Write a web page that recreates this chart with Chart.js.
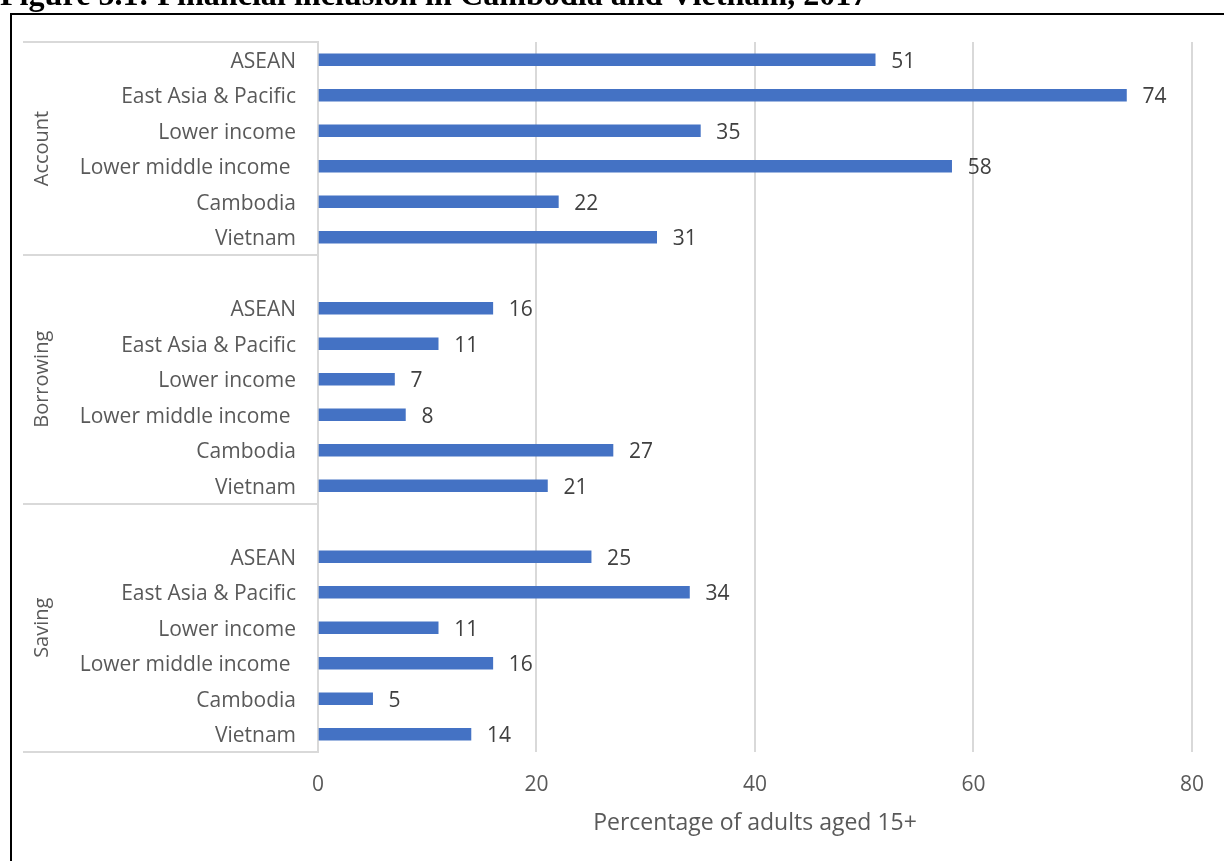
<!DOCTYPE html>
<html>
<head>
<meta charset="utf-8">
<script src="https://cdn.jsdelivr.net/npm/chart.js@4/dist/chart.umd.min.js"></script>
<style>
html,body{margin:0;padding:0;background:#fff;}
canvas{display:block;}
</style>
</head>
<body>
<canvas id="c" width="1224" height="861"></canvas>
<script>
const titleText = "Figure 5.1: Financial inclusion in Cambodia and Vietnam, 2017";
const groups = ["Account", "Borrowing", "Saving"];
const categories = ["ASEAN", "East Asia & Pacific", "Lower income", "Lower middle income ", "Cambodia", "Vietnam"];
const account = [51, 74, 35, 58, 22, 31];
const borrowing = [16, 11, 7, 8, 27, 21];
const saving = [25, 34, 11, 16, 5, 14];
const xTicks = [0, 20, 40, 60, 80];
const axisTitle = "Percentage of adults aged 15+";

const groupValues = [account, borrowing, saving];
const labels = [];
const values = [];
const groupStart = [];
groupValues.forEach((vals, g) => {
  groupStart.push(labels.length);
  if (g > 0) { labels.push(""); values.push(null); }
  categories.forEach((c, i) => { labels.push(c); values.push(vals[i]); });
});

const FONT = "'Open Sans', sans-serif";
const GRAY = "#595959";
const LINE = "#d9d9d9";

const decor = {
  id: "decor",
  afterDraw(chart) {
    const ctx = chart.ctx;
    const ca = chart.chartArea;
    const ys = chart.scales.y;
    const slot = (ys.getPixelForValue(1) - ys.getPixelForValue(0));
    ctx.save();
    // frame
    ctx.strokeStyle = "#000";
    ctx.lineWidth = 2;
    ctx.beginPath();
    ctx.moveTo(11, 861);
    ctx.lineTo(11, 14);
    ctx.lineTo(1224, 14);
    ctx.stroke();
    // title (cropped at top)
    ctx.fillStyle = "#000";
    let fs = 26;
    ctx.font = "bold " + fs + "px 'Liberation Serif', serif";
    const w = ctx.measureText(titleText).width;
    fs = fs * 868 / w;
    ctx.font = "bold " + fs.toFixed(2) + "px 'Liberation Serif', serif";
    ctx.textBaseline = "alphabetic";
    ctx.textAlign = "left";
    ctx.fillText(titleText, 0, 5);
    // group separators
    ctx.strokeStyle = LINE;
    ctx.lineWidth = 2;
    const bounds = groupStart.map(i => ys.getPixelForValue(i) - slot / 2);
    bounds.push(ca.bottom);
    bounds.forEach(yb => {
      ctx.beginPath();
      ctx.moveTo(23, Math.round(yb));
      ctx.lineTo(ca.left, Math.round(yb));
      ctx.stroke();
    });
    // group labels
    ctx.fillStyle = GRAY;
    ctx.font = "20px " + FONT;
    ctx.textAlign = "center";
    ctx.textBaseline = "middle";
    groups.forEach((g, i) => {
      const yc = (bounds[i] + bounds[i + 1]) / 2;
      ctx.save();
      ctx.translate(42, yc);
      ctx.rotate(-Math.PI / 2);
      ctx.fillText(g, 0, 0);
      ctx.restore();
    });
    // value labels
    ctx.fillStyle = "#404040";
    ctx.font = "21px " + FONT;
    ctx.textAlign = "left";
    ctx.textBaseline = "middle";
    const meta = chart.getDatasetMeta(0);
    meta.data.forEach((bar, i) => {
      const v = values[i];
      if (v === null) return;
      ctx.fillText(String(v), bar.x + 16, bar.y + 2);
    });
    // axis title
    ctx.fillStyle = GRAY;
    ctx.font = "23px " + FONT;
    ctx.textAlign = "center";
    ctx.textBaseline = "alphabetic";
    ctx.fillText(axisTitle, (ca.left + ca.right) / 2, 830);
    ctx.restore();
  }
};

new Chart(document.getElementById("c"), {
  type: "bar",
  data: {
    labels: labels,
    datasets: [{
      data: values,
      backgroundColor: "#4472C4",
      barThickness: 12
    }]
  },
  options: {
    indexAxis: "y",
    responsive: false,
    animation: false,
    layout: { padding: { left: 0, top: 42, right: 31, bottom: 0 } },
    plugins: { legend: { display: false }, tooltip: { enabled: false }, title: { display: false } },
    scales: {
      x: {
        min: 0, max: 80,
        afterBuildTicks(scale) { scale.ticks = xTicks.map(v => ({ value: v })); },
        afterFit(scale) { scale.height = 109; },
        grid: { color: LINE, lineWidth: 2, drawTicks: false },
        border: { display: false },
        ticks: { color: GRAY, font: { family: FONT, size: 21 }, padding: 20, maxRotation: 0 }
      },
      y: {
        afterFit(scale) { scale.width = 318; },
        grid: { display: false, drawTicks: false },
        border: { display: true, color: LINE, width: 2 },
        ticks: { color: GRAY, font: { family: FONT, size: 21 }, padding: 22, autoSkip: false, labelOffset: 2 }
      }
    }
  },
  plugins: [decor]
});
</script>
</body>
</html>
